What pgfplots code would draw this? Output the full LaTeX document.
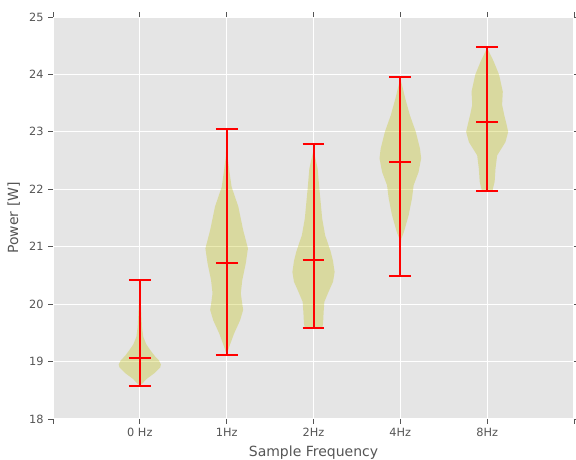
\documentclass[border=0pt]{standalone}
\usepackage{fontspec}
\setmainfont{DejaVu Sans}
\usepackage{pgfplots}
\usepackage{pgfplotstable}
\pgfplotsset{compat=1.18}
\usepgfplotslibrary{fillbetween}

\definecolor{panel}{HTML}{E5E5E5}
\definecolor{txt}{HTML}{555555}
\definecolor{violin}{rgb}{0.75,0.75,0}

% violin outlines: y value, half width (axis units)
\pgfplotstableread{
y w
18.58 0.0
18.62 0.03
18.70 0.08
18.80 0.17
18.90 0.235
18.95 0.243
19.02 0.22
19.10 0.17
19.20 0.12
19.30 0.075
19.43 0.04
19.60 0.025
19.80 0.018
20.00 0.012
20.20 0.006
20.42 0.0
}\vA
\pgfplotstableread{
y w
19.12 0.0
19.26 0.03
19.49 0.086
19.72 0.155
19.90 0.19
20.05 0.175
20.19 0.163
20.42 0.18
20.71 0.22
20.97 0.245
21.29 0.19
21.70 0.134
22.04 0.057
22.33 0.03
22.57 0.01
22.80 0.004
23.05 0.0
}\vB
\pgfplotstableread{
y w
19.58 0.10
19.66 0.11
19.87 0.117
20.04 0.125
20.21 0.172
20.39 0.225
20.56 0.243
20.75 0.225
20.92 0.197
21.20 0.134
21.49 0.10
21.78 0.082
22.05 0.065
22.36 0.048
22.55 0.02
22.65 0.005
22.78 0.0
}\vC
\pgfplotstableread{
y w
20.49 0.0
20.80 0.003
21.05 0.006
21.14 0.012
21.26 0.042
21.55 0.096
21.84 0.134
22.07 0.153
22.30 0.21
22.54 0.24
22.71 0.226
23.00 0.178
23.29 0.11
23.58 0.057
23.87 0.01
23.96 0.0
}\vD
\pgfplotstableread{
y w
21.97 0.06
22.13 0.086
22.36 0.096
22.59 0.115
22.82 0.21
23.00 0.242
23.15 0.22
23.29 0.197
23.47 0.172
23.70 0.18
23.99 0.138
24.22 0.077
24.43 0.01
24.48 0.0
}\vE

\newcommand\violin[2]{%
  \addplot[name path=R#1, draw=none] table[x expr={#1+\thisrow{w}}, y=y] {#2};
  \addplot[name path=L#1, draw=none] table[x expr={#1-\thisrow{w}}, y=y] {#2};
  \addplot[fill=violin, fill opacity=0.3, draw=none] fill between[of=R#1 and L#1, reverse=true];
}

\begin{document}
\begin{tikzpicture}
\begin{axis}[
  name=ax,
  scale only axis, width=390.75pt, height=301.5pt,
  xmin=0, xmax=6, ymin=18, ymax=25,
  xtick={0,...,6}, xticklabels={,0 Hz,1Hz,2Hz,4Hz,8Hz,},
  ytick={18,...,25},
  axis background/.style={fill=panel},
  axis line style={draw=none},
  grid=major, major grid style={white, line width=0.8pt},
  tick align=outside, major tick length=3.5pt,
  tick style={txt, line width=0.6pt},
  tick label style={font=\fontsize{8.5}{10}\selectfont, text=txt},
  label style={font=\fontsize{10.5}{12}\selectfont, text=txt},
  /pgf/number format/assume math mode=true,
  xlabel={Sample Frequency}, ylabel={Power [W]},
  redline/.style={draw=red, solid, line width=1.5pt, mark=none},
]
\violin{1}{\vA}
\violin{2}{\vB}
\violin{3}{\vC}
\violin{4}{\vD}
\violin{5}{\vE}
% range line, min / max caps and mean bar
\addplot[redline] coordinates {(1,18.58) (1,20.42)};
\addplot[redline] coordinates {(0.875,18.58) (1.125,18.58)};
\addplot[redline] coordinates {(0.875,20.42) (1.125,20.42)};
\addplot[redline] coordinates {(0.875,19.07) (1.125,19.07)};
\addplot[redline] coordinates {(2,19.12) (2,23.05)};
\addplot[redline] coordinates {(1.875,19.12) (2.125,19.12)};
\addplot[redline] coordinates {(1.875,23.05) (2.125,23.05)};
\addplot[redline] coordinates {(1.875,20.72) (2.125,20.72)};
\addplot[redline] coordinates {(3,19.58) (3,22.78)};
\addplot[redline] coordinates {(2.875,19.58) (3.125,19.58)};
\addplot[redline] coordinates {(2.875,22.78) (3.125,22.78)};
\addplot[redline] coordinates {(2.875,20.77) (3.125,20.77)};
\addplot[redline] coordinates {(4,20.49) (4,23.96)};
\addplot[redline] coordinates {(3.875,20.49) (4.125,20.49)};
\addplot[redline] coordinates {(3.875,23.96) (4.125,23.96)};
\addplot[redline] coordinates {(3.875,22.47) (4.125,22.47)};
\addplot[redline] coordinates {(5,21.97) (5,24.48)};
\addplot[redline] coordinates {(4.875,21.97) (5.125,21.97)};
\addplot[redline] coordinates {(4.875,24.48) (5.125,24.48)};
\addplot[redline] coordinates {(4.875,23.18) (5.125,23.18)};
\end{axis}
\pgfresetboundingbox
\path[use as bounding box] ([xshift=-39.75pt,yshift=-30pt]ax.south west) rectangle ([xshift=1.5pt,yshift=12.75pt]ax.north east);
\end{tikzpicture}
\end{document}
